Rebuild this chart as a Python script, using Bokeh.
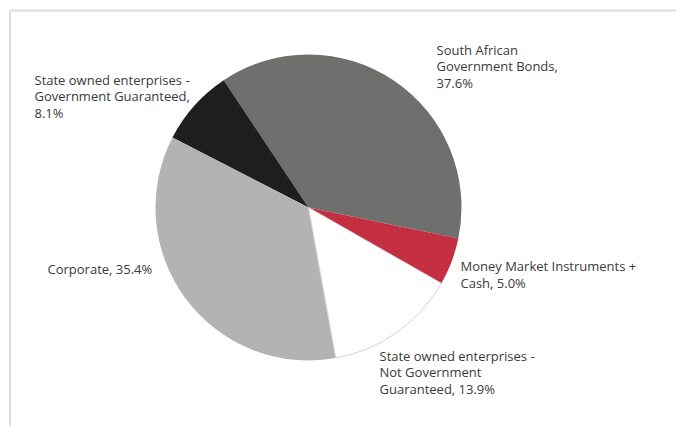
import math
from bokeh.plotting import figure
from bokeh.models import Range1d, ColumnDataSource
from bokeh.core.properties import value
from bokeh.embed import file_html
from bokeh.resources import INLINE

# ---- data (anticlockwise order) ----
categories = [
    "South African Government Bonds",
    "State owned enterprises - Government Guaranteed",
    "Corporate",
    "State owned enterprises - Not Government Guaranteed",
    "Money Market Instruments + Cash",
]
shares = [37.6, 8.1, 35.4, 13.9, 5.0]

# ---- styles / layout ----
colors = ["#6f6f6e", "#1e1e1e", "#b3b3b3", "#ffffff", "#c42f41"]
label_text = [
    "South African\nGovernment Bonds,\n{p}",
    "State owned enterprises -\nGovernment Guaranteed,\n{p}",
    "Corporate, {p}",
    "State owned enterprises -\nNot Government\nGuaranteed, {p}",
    "Money Market Instruments +\nCash, {p}",
]
# label block left x / vertical centre, in page pixels
label_pos = [(436, 66), (34, 96), (47, 268), (379, 372), (460, 274)]

W, H = 676, 426
PAGE_H = 426
def py(y):  # page pixel y -> data y
    return PAGE_H - y

cx, cy, R = 308, py(207), 153
start_deg = -11.7

p = figure(width=W, height=H, output_backend="svg", toolbar_location=None,
           x_range=Range1d(0, W), y_range=Range1d(PAGE_H - H, PAGE_H),
           min_border=0)
p.axis.visible = False
p.grid.visible = False
p.outline_line_color = None
p.background_fill_color = "white"

total = sum(shares)
starts, ends = [], []
a = math.radians(start_deg)
for s in shares:
    starts.append(a)
    a += 2 * math.pi * s / total
    ends.append(a)

src = ColumnDataSource(dict(x=[cx] * len(shares), y=[cy] * len(shares),
                            start=starts, end=ends, color=colors))
p.wedge(x="x", y="y", radius=R, start_angle="start", end_angle="end",
        fill_color="color", line_color=None, source=src)
# light outline on white slice
wi = 3
p.wedge(x=cx, y=cy, radius=R, start_angle=starts[wi], end_angle=ends[wi],
        fill_color=None, line_color="#d4d4d4", line_width=1)

# frame lines (top and left)
p.line(x=[9.5, 680], y=[py(10), py(10)], line_color="#dedede", line_width=2)
p.line(x=[9.5, 9.5], y=[py(10), py(430)], line_color="#dedede", line_width=2)

texts = [t.format(p=f"{s:.1f}%") for t, s in zip(label_text, shares)]
p.text(x=[lp[0] for lp in label_pos], y=[py(lp[1]) for lp in label_pos],
       text=texts, text_font=value("Open Sans"), text_font_size="13px",
       text_color="#3a3a3a", text_align="left", text_baseline="middle",
       text_line_height=0.9)

open("out.html", "w").write(file_html(p, INLINE))
